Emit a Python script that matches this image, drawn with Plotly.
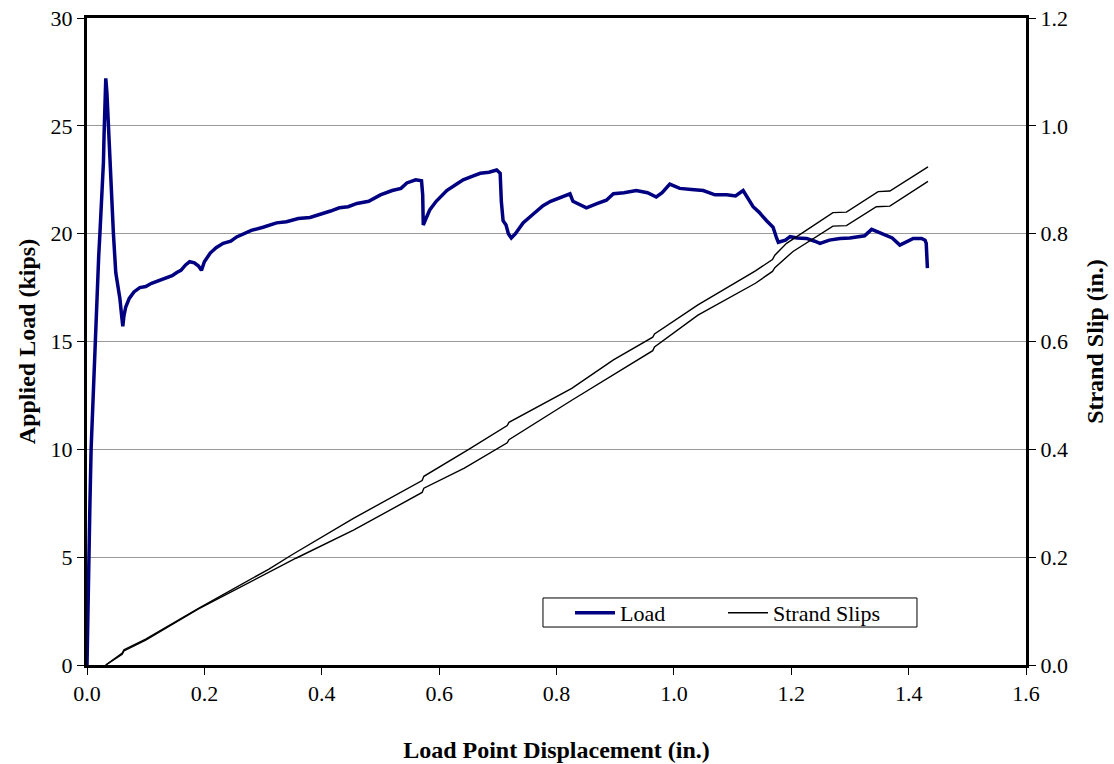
import plotly.graph_objects as go

# Applied load vs. load point displacement
load_x = [0, 0.001, 0.002, 0.003, 0.005, 0.007, 0.009, 0.011, 0.0135, 0.016, 0.018, 0.020,
          0.022, 0.024, 0.026, 0.028, 0.029, 0.031, 0.032, 0.034, 0.037, 0.041, 0.045, 0.049,
          0.053, 0.056, 0.059, 0.061, 0.063, 0.066, 0.072, 0.080, 0.090, 0.100, 0.110, 0.124,
          0.135, 0.145, 0.153, 0.160, 0.168, 0.175, 0.183, 0.190, 0.195, 0.200, 0.210, 0.220,
          0.232, 0.245, 0.255, 0.266, 0.280, 0.300, 0.323, 0.340, 0.360, 0.380, 0.400, 0.415,
          0.430, 0.445, 0.460, 0.480, 0.500, 0.520, 0.535, 0.545, 0.560, 0.570, 0.572, 0.573,
          0.576, 0.584, 0.595, 0.613, 0.630, 0.641, 0.655, 0.670, 0.685, 0.698, 0.704, 0.706,
          0.709, 0.714, 0.718, 0.723, 0.730, 0.743, 0.760, 0.777, 0.790, 0.805, 0.823, 0.828,
          0.840, 0.851, 0.870, 0.885, 0.897, 0.915, 0.936, 0.955, 0.970, 0.980, 0.993, 1.010,
          1.030, 1.050, 1.070, 1.090, 1.105, 1.118, 1.135, 1.145, 1.158, 1.169, 1.175, 1.178,
          1.190, 1.198, 1.210, 1.226, 1.240, 1.249, 1.265, 1.283, 1.300, 1.311, 1.325, 1.337,
          1.350, 1.362, 1.372, 1.385, 1.395, 1.408, 1.422, 1.428, 1.430, 1.431, 1.432]
load_kips = [0, 2.0, 4.0, 5.5, 7.5, 10.0, 11.5, 13.0, 14.5, 16.0, 17.5, 19.0,
             20.0, 21.0, 22.0, 23.3, 24.5, 26.0, 27.2, 26.5, 24.5, 22.0, 20.0, 18.2,
             17.6, 17.0, 16.2, 15.7, 16.2, 16.6, 17.0, 17.3, 17.5, 17.55, 17.7, 17.85,
             17.95, 18.05, 18.2, 18.3, 18.55, 18.7, 18.65, 18.5, 18.3, 18.7, 19.1, 19.35,
             19.55, 19.65, 19.85, 20.0, 20.15, 20.3, 20.5, 20.55, 20.7, 20.75, 20.9, 21.05,
             21.2, 21.25, 21.4, 21.5, 21.8, 22.0, 22.1, 22.35, 22.5, 22.45, 21.8, 20.4,
             20.6, 21.1, 21.5, 22.0, 22.3, 22.5, 22.65, 22.8, 22.85, 22.95, 22.8, 21.5,
             20.6, 20.4, 20.0, 19.8, 20.0, 20.5, 20.9, 21.3, 21.5, 21.65, 21.85, 21.5,
             21.35, 21.2, 21.4, 21.55, 21.85, 21.9, 22.0, 21.9, 21.7, 21.9, 22.3, 22.1,
             22.05, 22.0, 21.8, 21.8, 21.75, 22.0, 21.25, 21.0, 20.6, 20.3, 19.8, 19.6,
             19.7, 19.86, 19.8, 19.78, 19.65, 19.55, 19.7, 19.78, 19.8, 19.86, 19.9, 20.2,
             20.05, 19.93, 19.8, 19.47, 19.6, 19.78, 19.78, 19.7, 19.55, 18.9, 18.4]

# Strand slip readings (two strands)
slip_a_x = [0.032, 0.055, 0.060, 0.063, 0.100, 0.190, 0.310, 0.350, 0.454, 0.571, 0.574,
            0.649, 0.716, 0.719, 0.826, 0.897, 0.964, 0.967, 1.041, 1.139, 1.168, 1.172,
            1.192, 1.271, 1.294, 1.348, 1.368, 1.433]
slip_a = [0.0, 0.018, 0.022, 0.028, 0.048, 0.105, 0.178, 0.205, 0.272, 0.342, 0.350,
          0.399, 0.444, 0.450, 0.513, 0.566, 0.608, 0.614, 0.668, 0.731, 0.752, 0.760,
          0.782, 0.839, 0.840, 0.878, 0.879, 0.924]
slip_b_x = [0.032, 0.060, 0.063, 0.100, 0.190, 0.310, 0.356, 0.454, 0.571, 0.574, 0.643,
            0.716, 0.719, 0.826, 0.897, 0.964, 0.967, 1.041, 1.139, 1.168, 1.172, 1.203,
            1.271, 1.294, 1.345, 1.368, 1.433]
slip_b = [0.0, 0.020, 0.026, 0.046, 0.104, 0.173, 0.198, 0.250, 0.320, 0.328, 0.365,
          0.412, 0.418, 0.491, 0.538, 0.583, 0.590, 0.649, 0.708, 0.730, 0.737, 0.767,
          0.814, 0.815, 0.850, 0.851, 0.897]

SERIF = "Liberation Serif"

fig = go.Figure()
fig.add_trace(go.Scatter(x=load_x, y=load_kips, mode="lines", name="Load",
                         line=dict(color="#000080", width=3.5), legend="legend"))
fig.add_trace(go.Scatter(x=slip_a_x, y=slip_a, mode="lines", name="Strand Slips",
                         line=dict(color="black", width=1.4), yaxis="y2", legend="legend2"))
fig.add_trace(go.Scatter(x=slip_b_x, y=slip_b, mode="lines", name="Strand Slips",
                         line=dict(color="black", width=1.4), yaxis="y2", showlegend=False))

axis_font = dict(family=SERIF, size=22, color="black")
title_font = dict(family=SERIF, size=24, color="black")
legend_font = dict(family=SERIF, size=22, color="black")

# Legend frame
fig.add_shape(type="rect", xref="paper", yref="paper",
              x0=0.4856, x1=0.8839, y0=0.0587, y1=0.1036,
              line=dict(color="black", width=1), fillcolor="white", layer="above")

legend_common = dict(orientation="h", y=0.0804, xanchor="left", yanchor="middle",
                     bgcolor="rgba(0,0,0,0)", borderwidth=0, font=legend_font,
                     itemwidth=40)

fig.update_layout(
    width=1114, height=764,
    margin=dict(l=87, r=88, t=18, b=99),
    paper_bgcolor="white", plot_bgcolor="white",
    font=dict(family=SERIF, color="black"),
    xaxis=dict(range=[0, 1.6], dtick=0.2, tick0=0, tickformat=".1f",
               showgrid=False, zeroline=False, automargin=False,
               showline=True, linewidth=3, linecolor="black", mirror=True,
               ticks="outside", ticklen=7, tickwidth=1, tickcolor="black",
               tickfont=axis_font,
               title=dict(text="<b>Load Point Displacement (in.)</b>", font=title_font,
                          standoff=36)),
    yaxis=dict(range=[0, 30], dtick=5, tick0=0, automargin=False,
               showgrid=True, gridcolor="#999999", gridwidth=1, zeroline=False,
               showline=True, linewidth=3, linecolor="black",
               ticks="outside", ticklen=7, tickwidth=1, tickcolor="black",
               tickfont=axis_font,
               title=dict(text="<b>Applied Load (kips)</b>", font=title_font, standoff=9)),
    yaxis2=dict(range=[0, 1.2], dtick=0.2, tick0=0, tickformat=".1f",
                overlaying="y", side="right", automargin=False,
                showgrid=False, zeroline=False,
                showline=True, linewidth=3, linecolor="black",
                ticks="outside", ticklen=7, tickwidth=1, tickcolor="black",
                tickfont=axis_font,
                title=dict(text="<b>Strand Slip (in.)</b>", font=title_font, standoff=20)),
    legend=dict(x=0.5144, **legend_common),
    legend2=dict(x=0.6773, **legend_common),
)

fig.write_html("out.html")
